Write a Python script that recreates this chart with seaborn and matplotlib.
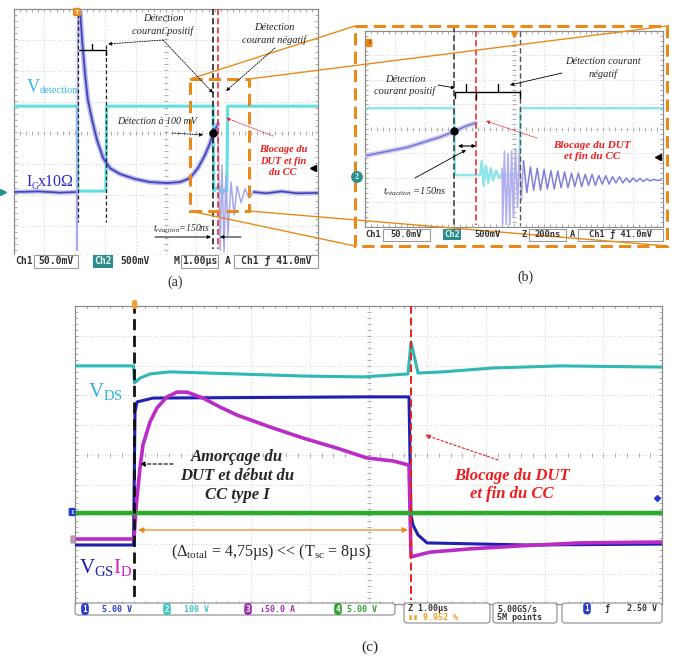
import matplotlib
matplotlib.use('Agg')
import matplotlib.pyplot as plt
from matplotlib.patches import Rectangle, FancyBboxPatch
import numpy as np
import seaborn as sns

# ---------------- data (time in divisions, level in divisions) ----------------
# (a) 1.00 us/div : Ch2 = V_detection, Ch1 = I_G x 10 ohm
a_det_t = [0.0, 2.08, 2.10, 3.02, 3.05, 6.55, 6.57, 6.75, 6.85, 6.95, 7.00, 7.03, 10.0]
a_det_v = [0.85, 0.85, -1.89, -1.89, 0.85, 0.85, -1.89, -1.72, -1.98, -1.82, -1.89, 0.85, 0.85]
a_ig_base_t = [0.0, 0.8, 1.5, 2.07]
a_ig_base_v = [-1.92, -1.90, -1.94, -1.92]
a_ig_t = [2.15, 2.17, 2.24, 2.34, 2.43, 2.57, 2.73, 2.93, 3.16, 3.49, 3.98, 4.47,
          5.03, 5.46, 5.79, 6.05, 6.28, 6.45, 6.55, 6.71]
a_ig_v = [4.3, 4.02, 2.98, 1.85, 1.05, 0.40, -0.24, -0.82, -1.15, -1.34, -1.50, -1.60,
          -1.63, -1.60, -1.47, -1.15, -0.73, -0.34, -0.02, 0.27]
a_spike_t = [2.07, 2.08, 2.10, 2.15]
a_spike_v = [-1.92, -3.8, 4.3, 4.3]
a_ring_t = [6.71, 6.78, 6.84, 6.91, 6.97, 7.04, 7.14, 7.24, 7.34, 7.47, 7.60, 7.73, 7.89]
a_ring_v = [0.27, -3.79, -1.05, -3.85, -1.37, -3.31, -1.60, -2.66, -1.73, -2.27, -1.82, -2.11, -1.92]
a_tail_t = [7.89, 8.3, 8.8, 9.3, 10.0]
a_tail_v = [-1.92, -1.96, -1.90, -1.96, -1.95]
a_pos, a_off = 6.55, 6.71          # detection / turn-off
a_brk1, a_brk2 = 2.10, 3.03        # positive detection window

# (b) 200 ns/div zoom
b_det_t = [0.05, 2.99, 3.02, 3.86, 3.92, 3.98, 4.06, 4.14, 4.22, 4.30, 4.40, 4.50,
           4.62, 4.75, 5.18, 5.22, 10.0]
b_det_v = [0.85, 0.85, -1.88, -1.88, -1.3, -2.3, -1.5, -2.2, -1.6, -2.1, -1.7, -2.0,
           -1.8, -1.9, -1.88, 0.85, 0.85]
b_ig_t = [0.05, 1.41, 2.52, 2.99, 3.39, 3.72]
b_ig_v = [-1.08, -0.75, -0.33, -0.10, 0.12, 0.25]
b_fast_t = [4.60, 4.62, 4.68, 4.74, 4.80, 4.86, 4.92, 4.98, 5.05, 5.12, 5.18, 5.25, 5.32]
b_fast_v = [-1.6, -3.9, -0.9, -3.9, -1.0, -3.9, -0.9, -3.6, -0.8, -3.2, -1.0, -2.9, -1.3]
b_ring_t = [5.32, 5.43, 5.55, 5.66, 5.78, 5.89, 6.01, 6.12, 6.24, 6.35, 6.47, 6.58, 6.70,
            6.81, 6.93, 7.04, 7.16, 7.27, 7.39, 7.50, 7.62, 7.73, 7.85, 7.96, 8.08, 8.19,
            8.31, 8.42, 8.54, 8.65, 8.77, 8.88, 9.00, 9.11, 9.23, 9.34, 9.46, 9.57, 9.69,
            9.80, 9.95]
b_ring_v = [-1.3, -2.6, -1.55, -2.5, -1.6, -2.5, -1.65, -2.45, -1.7, -2.45, -1.72, -2.4,
            -1.75, -2.4, -1.8, -2.35, -1.8, -2.35, -1.85, -2.3, -1.85, -2.3, -1.9, -2.25,
            -1.9, -2.25, -1.95, -2.2, -1.95, -2.2, -2.0, -2.18, -2.0, -2.15, -2.02, -2.14,
            -2.04, -2.12, -2.06, -2.1, -2.08]
b_pos, b_off, b_neg = 2.99, 3.72, 5.20

# (c) 1.00 us/div short-circuit type I
c_vds_t = [0.0, 0.997, 1.014, 1.107, 1.278, 1.618, 2.760, 3.884, 4.906, 5.673, 5.724,
           5.775, 5.843, 6.269, 7.121, 8.262, 10.0]
c_vds_v = [2.99, 2.99, 2.42, 2.58, 2.72, 2.79, 2.72, 2.65, 2.62, 2.72, 3.79, 3.36, 2.75,
           2.79, 2.92, 2.99, 2.95]
c_vgs_t = [0.0, 0.997, 1.022, 1.056, 1.329, 4.906, 5.690, 5.724, 5.758, 5.843, 5.997, 7.70, 10.0]
c_vgs_v = [-3.02, -3.02, 1.44, 1.78, 1.91, 1.95, 1.95, -2.01, -2.35, -2.68, -2.95, -3.02, -2.99]
c_id_t = [0.0, 1.005, 1.031, 1.056, 1.107, 1.158, 1.278, 1.397, 1.567, 1.738, 1.908, 2.181,
          2.470, 2.760, 3.322, 3.884, 4.463, 4.974, 5.417, 5.690, 5.724, 5.843, 6.048, 6.729,
          7.581, 8.603, 10.0]
c_id_v = [-2.82, -2.82, -2.01, -1.44, -0.44, 0.34, 1.11, 1.58, 1.95, 2.11, 2.11, 1.91, 1.61,
          1.34, 0.94, 0.57, 0.23, -0.10, -0.20, -0.34, -3.42, -3.36, -3.26, -3.15, -3.05,
          -2.95, -2.92]
c_g_t = [0.0, 10.0]
c_g_v = [-1.95, -1.95]
c_on, c_off = 1.0, 5.72

# ---------------- style ----------------
sns.set_style('white')
plt.rcParams['font.family'] = ['Liberation Serif', 'DejaVu Serif']
plt.rcParams['mathtext.fontset'] = 'custom'
plt.rcParams['mathtext.rm'] = 'Liberation Serif'
plt.rcParams['mathtext.it'] = 'Liberation Serif:italic'
plt.rcParams['mathtext.bf'] = 'Liberation Serif:bold'

W, H = 678, 656
fig = plt.figure(figsize=(W / 100, H / 100), dpi=100)
fig.patch.set_facecolor('white')
ORANGE = '#e88a1a'
RED = '#ee1c1c'
MONO = 'DejaVu Sans Mono'


def px_axes(x0, y0, x1, y1, z=1):
    ax = fig.add_axes([x0 / W, 1 - y1 / H, (x1 - x0) / W, (y1 - y0) / H])
    ax.set_zorder(z)
    return ax


def graticule(ax, nx, ny):
    for i in range(1, nx):
        ax.axvline(i, color='#c4c4c4', lw=0.6, ls=(0, (1, 2.5)), zorder=0)
    for j in range(1, ny):
        ax.axhline(j - ny / 2, color='#c4c4c4', lw=0.6, ls=(0, (1, 2.5)), zorder=0)
    tx = np.arange(0.2, nx, 0.2)
    ty = np.arange(-ny / 2 + 0.2, ny / 2, 0.2)
    kw = dict(ls='none', color='#a0a0a0', mew=0.6, zorder=0)
    ax.plot(tx, np.zeros_like(tx), marker='|', ms=3, **kw)
    ax.plot(np.full_like(ty, nx / 2), ty, marker='_', ms=3, **kw)
    for yy in (-ny / 2, ny / 2):
        ax.plot(tx, np.full_like(tx, yy), marker='|', ms=4, **kw)
    for xx in (0, nx):
        ax.plot(np.full_like(ty, xx), ty, marker='_', ms=4, **kw)
    ax.set_xlim(0, nx)
    ax.set_ylim(-ny / 2, ny / 2)
    ax.set_xticks([])
    ax.set_yticks([])
    for s in ax.spines.values():
        s.set_color('#8c8c8c')
        s.set_linewidth(0.9)


def trace(ax, t, v, color, lw, z=3, alpha=1.0):
    sns.lineplot(x=t, y=v, ax=ax, color=color, lw=lw, alpha=alpha, sort=False,
                 estimator=None, zorder=z, legend=False)


def vline(ax, x, y0, y1, color, lw, dash=(4, 2)):
    ax.plot([x, x], [y0, y1], color=color, lw=lw, ls=(0, dash), clip_on=False, zorder=6)


# ---------------- panel (a) ----------------
ax_a = px_axes(14, 8.5, 318, 256.5)
graticule(ax_a, 10, 8)
trace(ax_a, a_det_t, a_det_v, '#62dfe2', 2.2)
trace(ax_a, a_ig_base_t, a_ig_base_v, '#a9a9ee', 3.2, alpha=0.8)
trace(ax_a, a_ig_base_t, a_ig_base_v, '#4444b4', 1.2)
trace(ax_a, a_spike_t, a_spike_v, '#a8a8ee', 1.2)
trace(ax_a, a_ig_t, a_ig_v, '#a9a9ee', 3.6, alpha=0.8)
trace(ax_a, a_ig_t, a_ig_v, '#4444b4', 1.3)
trace(ax_a, a_ring_t, a_ring_v, '#a8a8ee', 1.1)
trace(ax_a, a_tail_t, a_tail_v, '#a9a9ee', 3.2, alpha=0.8)
trace(ax_a, a_tail_t, a_tail_v, '#4444b4', 1.2)
vline(ax_a, a_brk1, 3.82, -2.89, '#222222', 0.9, (3, 2))
vline(ax_a, a_brk2, 2.82, -2.89, '#222222', 0.9, (3, 2))
vline(ax_a, a_pos, 4.0, -3.75, '#111111', 1.1)
vline(ax_a, a_off, 4.0, -3.75, RED, 1.1)
ax_a.plot([a_pos], [0.0], 'o', color='black', ms=5, zorder=7)

# ---------------- panel (b) ----------------
ax_b = px_axes(365, 31, 663, 227)
graticule(ax_b, 10, 8)
trace(ax_b, b_det_t, b_det_v, '#8ee6ea', 1.8)
trace(ax_b, b_ig_t, b_ig_v, '#c0c0f0', 3.5, alpha=0.8)
trace(ax_b, b_ig_t, b_ig_v, '#7a7ad6', 1.2)
trace(ax_b, b_fast_t, b_fast_v, '#b0b0ee', 1.2)
trace(ax_b, b_ring_t, b_ring_v, '#8080d8', 1.1)
vline(ax_b, b_pos, 4.2, -3.9, '#333333', 1.1)
vline(ax_b, b_off, 4.0, -3.9, RED, 1.1)
vline(ax_b, b_neg, 4.0, -3.9, '#555555', 1.0)
ax_b.plot([b_pos], [-0.10], 'o', color='black', ms=5, zorder=7)

# ---------------- panel (c) ----------------
ax_c = px_axes(75, 306, 662, 604)
graticule(ax_c, 10, 10)
trace(ax_c, c_vds_t, c_vds_v, '#2fb8b4', 2.2)
trace(ax_c, c_vgs_t, c_vgs_v, '#1f1fb0', 2.2)
trace(ax_c, c_id_t, c_id_v, '#bb2cc6', 2.6)
trace(ax_c, c_g_t, c_g_v, '#2aab2a', 3.2)
vline(ax_c, c_on, 5.15, -4.85, '#111111', 2.0, (4, 2))
vline(ax_c, c_off, 5.0, -4.85, RED, 1.4, (4, 2))

# ---------------- overlay (annotations, status bars) ----------------
ov = fig.add_axes([0, 0, 1, 1])
ov.set_zorder(50)
ov.set_xlim(0, W)
ov.set_ylim(H, 0)
ov.axis('off')


def arrow(p0, p1, color='black', ls='-', lw=0.7, head='-|>', ms=6):
    ov.annotate('', xy=p1, xytext=p0,
                arrowprops=dict(arrowstyle=head, color=color, lw=lw, ls=ls,
                                shrinkA=0, shrinkB=0, mutation_scale=ms))


def box(x0, y0, x1, y1, ec='#9a9a9a', fc='white', rounded=False):
    if rounded:
        ov.add_patch(FancyBboxPatch((x0, y0), x1 - x0, y1 - y0,
                                    boxstyle='round,pad=0,rounding_size=3',
                                    fc=fc, ec=ec, lw=0.8))
    else:
        ov.add_patch(Rectangle((x0, y0), x1 - x0, y1 - y0, fc=fc, ec=ec, lw=0.8))


def mono(x, y, s, size, color='#333333', ha='center', **kw):
    ov.text(x, y, s, fontsize=size, color=color, ha=ha, va='center',
            family=MONO, weight='bold', **kw)


def badge(x, y, s, color, size=5.5):
    ov.text(x, y, s, fontsize=size, color='white', ha='center', va='center',
            family=MONO, weight='bold',
            bbox=dict(boxstyle='round,pad=0.2,rounding_size=0.5', fc=color, ec='none'))


DOT = (0, (1.5, 1.5))

# --- (a) annotations
ov.text(27, 92, 'V', fontsize=13, color='#35b7ee', va='baseline')
ov.text(40, 93, 'detection', fontsize=7.5, color='#35b7ee', va='baseline')
ov.text(26, 186, 'I', fontsize=11.5, color='#2b2bc8', va='baseline')
ov.text(32, 189, 'G', fontsize=7, color='#2b2bc8', va='baseline')
ov.text(38, 186, 'x10Ω', fontsize=11.5, color='#2b2bc8', va='baseline')
ov.plot([79, 106], [50, 50], color='black', lw=1)
ov.plot([92, 92], [50, 44], color='black', lw=1)
ov.plot([106, 106], [50, 55], color='black', lw=1)
ov.text(163, 25, 'Détection\ncourant positif', fontsize=7.5, style='italic',
        ha='center', va='center', linespacing=1.35)
arrow((163, 40), (108, 44), ls=DOT, lw=0.6, ms=5)
arrow((163, 40), (213, 93), ls=DOT, lw=0.6, ms=5)
ov.text(274, 34, 'Détection\ncourant négatif', fontsize=7.5, style='italic',
        ha='center', va='center', linespacing=1.35)
arrow((275, 48), (226, 91), ls=DOT, lw=0.6, ms=5)
ov.text(157, 122, 'Détection à 100 mV', fontsize=7.2, style='italic', ha='center', va='center')
arrow((172, 133), (203, 135), ls=DOT, lw=0.6, ms=5)
arrow((273, 136), (226, 118), color=RED, ls=DOT, lw=0.6, ms=5)
ov.text(283, 161, 'Blocage du\nDUT et fin\ndu CC', fontsize=7.5, style='italic',
        weight='bold', color=RED, ha='center', va='center', linespacing=1.4)
ov.text(182, 229, r'$t_{réaction}$=150ns', fontsize=7, style='italic', ha='center', va='center')
arrow((155, 237), (211, 237), lw=0.7, ms=5)
arrow((241, 237), (220, 237), lw=0.7, ms=5)
ov.add_patch(Rectangle((190, 79), 59, 132, fill=False, ec=ORANGE, lw=2.2, ls=(0, (4, 2))))
ov.plot([3], [192], marker='>', color='#2a8f8f', ms=5)
ov.plot([313], [168], marker='<', color='black', ms=4)
ov.text(77, 12, 'T', fontsize=5, color='white', ha='center', va='center', weight='bold',
        bbox=dict(boxstyle='round,pad=0.25', fc=ORANGE, ec='none'))

# (a) status bar
ov.add_patch(Rectangle((14, 255), 304, 13, fc='white', ec='none'))
mono(24, 261.5, 'Ch1', 7)
box(34, 255, 78, 268)
mono(56, 261.5, '50.0mV', 7)
mono(103, 261.5, 'Ch2', 7, color='#dff5f5',
     bbox=dict(boxstyle='square,pad=0.15', fc='#2e8b8b', ec='none'))
mono(135, 261.5, '500mV', 7)
mono(177, 261.5, 'M', 7)
box(181, 255, 218, 268)
mono(199.5, 261.5, '1.00µs', 7)
mono(228, 261.5, 'A', 7)
box(234, 255, 318, 268)
mono(276, 261.5, 'Ch1 ƒ 41.0mV', 7)
ov.text(175, 282, '(a)', fontsize=10, ha='center', va='center')

# --- (b) annotations
ov.add_patch(Rectangle((355, 26), 312, 220, fill=False, ec=ORANGE, lw=2.2, ls=(0, (4, 2))))
ov.plot([455, 455, 520, 520], [98, 92, 92, 98], color='black', lw=1)
ov.plot([466, 466], [92, 84], color='black', lw=1)
ov.plot([498, 498], [92, 84], color='black', lw=1)
ov.plot([476, 476], [92, 99], color='black', lw=1)
ov.text(405, 85.5, 'Détection\ncourant positif', fontsize=7.5, style='italic',
        ha='center', va='center', linespacing=1.3)
arrow((438, 85), (455, 88), lw=0.6, ms=5)
ov.text(603, 68, 'Détection courant\nnégatif', fontsize=7.5, style='italic',
        ha='center', va='center', linespacing=1.3)
arrow((562, 73), (510, 85), lw=0.6, ms=5)
arrow((458, 146), (476, 146), head='<|-|>', lw=0.8, ms=5)
arrow((415, 178), (466, 150), lw=0.6, ms=5)
ov.text(415, 192, r'$t_{réaction}$ =150ns', fontsize=7.5, style='italic', ha='center', va='center')
arrow((537, 138), (486, 121), color=RED, ls=DOT, lw=0.6, ms=5)
ov.text(592, 151, 'Blocage du DUT\net fin du CC', fontsize=8, style='italic',
        weight='bold', color=RED, ha='center', va='center', linespacing=1.3)
ov.plot([658], [157], marker='<', color='black', ms=4)
ov.plot([514], [34], marker='v', color=ORANGE, ms=4)
ov.text(369, 43, '1', fontsize=5, color='#7a3a00', ha='center', va='center', weight='bold',
        bbox=dict(boxstyle='round,pad=0.25', fc=ORANGE, ec='none'))
ov.text(357, 177, '2', fontsize=5.5, color='white', ha='center', va='center', weight='bold',
        bbox=dict(boxstyle='circle,pad=0.25', fc='#2a8f8f', ec='none'))

# (b) status bar
ov.add_patch(Rectangle((365, 228), 298, 13, fc='white', ec='none'))
mono(373, 234.5, 'Ch1', 6.3)
box(383, 228.5, 430, 240.5)
mono(406.5, 234.5, '50.0mV', 6.3)
mono(452, 234.5, 'Ch2', 6.3, color='#dff5f5',
     bbox=dict(boxstyle='square,pad=0.15', fc='#2e8b8b', ec='none'))
mono(487, 234.5, '500mV', 6.3)
mono(524, 234.5, 'Z', 6.3)
box(529, 228.5, 566, 240.5)
mono(547.5, 234.5, '200ns', 6.3)
mono(572, 234.5, 'A', 6.3)
box(578, 228.5, 663, 240.5)
mono(620.5, 234.5, 'Ch1 ƒ 41.0mV', 6.3)
ov.text(525, 277, '(b)', fontsize=10, ha='center', va='center')

# connectors between the two boxes
for p0, p1 in [((190, 79), (355, 26)), ((249, 79), (667, 26)),
               ((190, 211), (355, 246)), ((249, 211), (667, 246))]:
    ov.plot([p0[0], p1[0]], [p0[1], p1[1]], color=ORANGE, lw=1.0)

# --- (c) annotations
ov.text(88, 392, r'V$_{\mathrm{DS}}$', fontsize=15, color='#30b0e8', va='center')
ov.text(79, 567, r'V$_{\mathrm{GS}}$', fontsize=15, color='#1a1ab8', va='center')
ov.text(113, 567, r'I$_{\mathrm{D}}$', fontsize=15, color='#d21fc8', va='center')
ov.text(237, 476, 'Amorçage du\nDUT et début du\nCC type I', fontsize=12, style='italic',
        weight='bold', ha='center', va='center', linespacing=1.25)
arrow((173, 464), (140, 464), ls=(0, (3, 2)), lw=0.8, ms=7)
ov.text(512, 485, 'Blocage du DUT\net fin du CC', fontsize=12, style='italic',
        weight='bold', color=RED, ha='center', va='center', linespacing=1.2)
arrow((498, 460), (425, 435), color=RED, ls=(0, (2, 2)), lw=0.8, ms=7)
arrow((138, 530), (408, 530), head='<|-|>', color=ORANGE, lw=0.9, ms=8)
ov.text(271, 552, r'($\Delta_{\mathrm{total}}$ = 4,75µs) << (T$_{\mathrm{sc}}$ = 8µs)',
        fontsize=11.5, ha='center', va='center')
ov.text(134, 306, ' ', fontsize=4,
        bbox=dict(boxstyle='round,pad=0.35', fc='#f0a030', ec='none'))
ov.text(72, 512, '1', fontsize=5, color='white', ha='center', va='center', weight='bold',
        bbox=dict(boxstyle='round,pad=0.25', fc='#2a3bd0', ec='none'))
ov.text(72, 541, ' ', fontsize=5,
        bbox=dict(boxstyle='round,pad=0.25', fc='#b89aaa', ec='none'))
ov.plot([657], [498], marker='D', color='#2a3bd0', ms=3)

# (c) status bar
box(75, 603, 395, 615, ec='#8a8a8a', rounded=True)
badge(85, 609, '1', '#2a3bd0')
mono(117, 609, '5.00 V', 6, color='#2a3bd0')
badge(167, 609, '2', '#3cc7c7')
mono(197, 609, '100 V', 6, color='#3cc7c7')
badge(248, 609, '3', '#a030b0')
mono(277, 609, '↓50.0 A', 6, color='#a030b0')
badge(338, 609, '4', '#30a030')
mono(362, 609, '5.00 V', 6, color='#30a030')
box(404, 603, 490, 623, ec='#8a8a8a', rounded=True)
mono(408, 608.5, 'Z 1.00µs', 6, ha='left')
mono(408, 618, '▮▮ 9.952 %', 6, color='#f0a020', ha='left')
box(493, 603, 557, 623, ec='#8a8a8a', rounded=True)
mono(497, 608.5, '5.00GS/s', 6, ha='left')
mono(497, 618, '5M points', 6, ha='left')
box(562, 603, 662, 623, ec='#8a8a8a', rounded=True)
badge(587, 608.5, '1', '#2a3bd0')
mono(607, 608.5, 'ƒ', 6)
mono(657, 608.5, '2.50 V', 6, ha='right')
ov.text(370, 647, '(c)', fontsize=11, ha='center', va='center')

fig.savefig('out.png', dpi=100)
